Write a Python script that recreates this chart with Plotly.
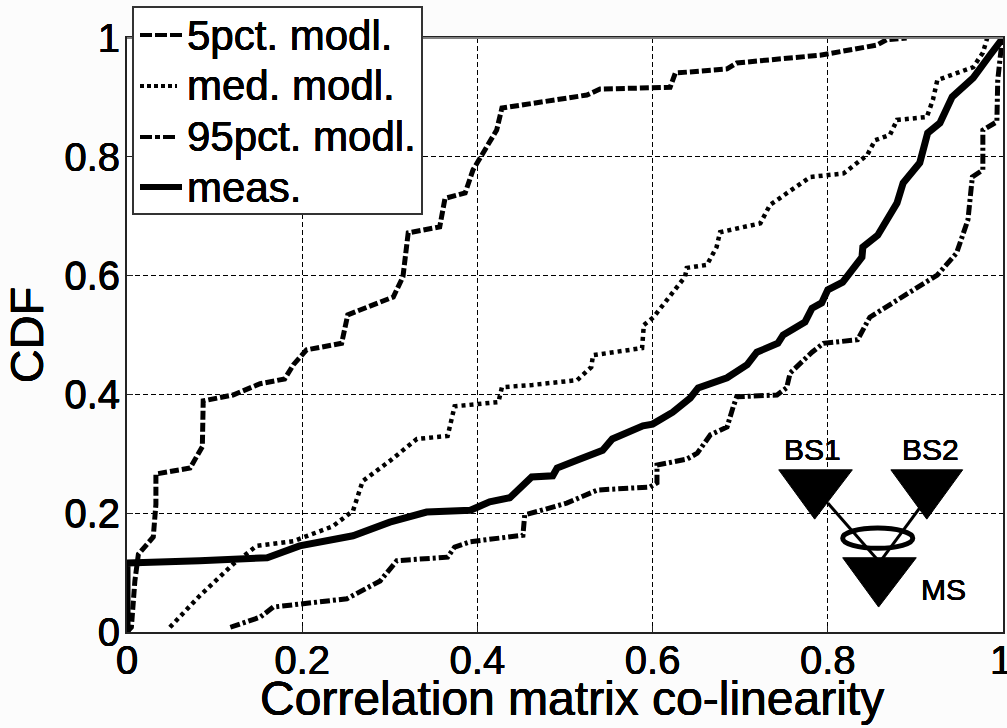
import plotly.graph_objects as go

p5_x = [0,.005,.009,.013,.03,.033,.033,.072,.086,.087,.121,.152,.18,.19,.205,.245,.252,.304,.315,.321,.357,.363,.386,.395,.422,.426,.428,.525,.54,.62,.626,.685,.696,.791,.856,.867,.89]
p5_y = [0,.008,.086,.131,.16,.215,.266,.276,.312,.389,.399,.418,.426,.45,.475,.486,.534,.564,.598,.672,.682,.73,.739,.778,.845,.865,.882,.904,.914,.917,.941,.948,.958,.971,.988,.997,1.0]

med_x = [.049,.083,.121,.148,.19,.235,.258,.269,.3,.331,.366,.374,.424,.428,.463,.514,.53,.532,.588,.59,.601,.637,.639,.662,.673,.677,.723,.734,.78,.818,.845,.854,.871,.879,.913,.92,.925,.966,.977,.982]
med_y = [.008,.061,.114,.145,.153,.178,.204,.254,.288,.325,.33,.38,.387,.412,.416,.424,.446,.466,.478,.517,.53,.598,.613,.618,.648,.673,.688,.719,.766,.772,.803,.828,.837,.862,.867,.896,.929,.951,.975,1.0]

p95_x = [.118,.152,.167,.251,.289,.308,.366,.374,.392,.452,.454,.502,.537,.597,.605,.605,.639,.651,.666,.685,.692,.696,.742,.753,.757,.782,.795,.834,.848,.882,.925,.947,.96,.965,.977,.977,.993,.994,.999]
p95_y = [.008,.025,.042,.056,.086,.12,.126,.143,.152,.163,.197,.217,.239,.244,.251,.281,.291,.301,.332,.345,.379,.396,.399,.411,.436,.471,.486,.492,.53,.562,.601,.638,.694,.766,.778,.845,.859,.929,.997]

meas_x = [0,0,.083,.16,.197,.258,.3,.342,.392,.414,.437,.451,.462,.486,.491,.515,.543,.554,.589,.6,.623,.643,.652,.685,.708,.719,.743,.749,.774,.782,.793,.8,.817,.839,.84,.857,.879,.886,.905,.914,.928,.942,.966,.985,1.0]
meas_y = [0,.116,.12,.125,.145,.162,.185,.202,.205,.219,.226,.247,.261,.263,.276,.29,.306,.325,.347,.35,.37,.394,.411,.428,.45,.471,.486,.5,.522,.545,.554,.576,.589,.631,.648,.668,.722,.756,.79,.84,.857,.901,.933,.971,1.0]

tick_vals = [0,.2,.4,.6,.8,1]
x_tick_text = ["0","0.2","0.4","0.6","0.8",""]
y_tick_text = ["0","0.2","0.4","0.6","0.8","1"]
series_names = ["5pct. modl.","med. modl.","95pct. modl.","meas."]

FONT = "Liberation Sans"
BOLD = "0.3px 0 0 black, -0.3px 0 0 black, 0 0.3px 0 black, 0 -0.3px 0 black"
def font(size):
    return dict(family=FONT, size=size, color="black", shadow=BOLD)
def xp(px): return (px-127)/876
def yp(py): return (632-py)/594

fig = go.Figure()
styles = [dict(width=5, dash="9px,3px"), dict(width=4.5, dash="4px,4px"),
          dict(width=5, dash="10px,3px,3px,3px"), dict(width=7, dash="solid")]
legend_styles = [dict(width=4, dash="12px,3px"), dict(width=4, dash="4px,3px"),
                 dict(width=4, dash="12px,3px,5px,3px"), dict(width=6, dash="solid")]
for name, xs, ys, st in zip(series_names, [p5_x, med_x, p95_x, meas_x], [p5_y, med_y, p95_y, meas_y], styles):
    fig.add_trace(go.Scatter(x=xs, y=ys, mode="lines", name=name, line=dict(color="black", **st)))

def tri(x0, x1, xa, y0, y1):
    return dict(type="path", xref="x", yref="y", path=f"M {x0} {y0} L {x1} {y0} L {xa} {y1} Z",
                fillcolor="black", line=dict(color="black", width=1))
shapes = [tri(.744,.828,.785,.273,.190), tri(.872,.954,.913,.273,.190), tri(.817,.901,.858,.125,.042),
          dict(type="line", xref="x", yref="y", x0=.800, y0=.217, x1=.856, y1=.123, line=dict(color="black", width=3)),
          dict(type="line", xref="x", yref="y", x0=.905, y0=.209, x1=.862, y1=.123, line=dict(color="black", width=3)),
          dict(type="circle", xref="x", yref="y", x0=.817, x1=.897, y0=.141, y1=.175, line=dict(color="black", width=5)),
          dict(type="line", xref="paper", yref="paper", x0=0, x1=1, y0=1, y1=1, line=dict(color="#808080", width=2)),
          dict(type="rect", xref="paper", yref="paper", x0=xp(133), x1=xp(422), y0=yp(214), y1=yp(7),
               fillcolor="white", line=dict(color="#333333", width=2))]
notes = [dict(x=.782, y=.308, text="BS1"), dict(x=.917, y=.308, text="BS2"), dict(x=.932, y=.072, text="MS")]
annotations = [dict(xref="x", yref="y", showarrow=False, font=font(30), **n) for n in notes]

legend_rows = [35, 86, 137, 187]
legend_ends = [182, 177, 177, 182]
for name, row, end, st in zip(series_names, legend_rows, legend_ends, legend_styles):
    shapes.append(dict(type="line", xref="paper", yref="paper", x0=xp(140), x1=xp(end), y0=yp(row), y1=yp(row),
                       line=dict(color="black", **st)))
    annotations.append(dict(xref="paper", yref="paper", x=xp(185), y=yp(row), xanchor="left", yanchor="middle",
                            text=name, showarrow=False, font=font(42)))
annotations.append(dict(xref="paper", yref="paper", x=xp(1001), y=yp(660), xanchor="center", yanchor="middle",
                        text="1", showarrow=False, font=font(40)))
annotations.append(dict(xref="paper", yref="paper", x=xp(572), y=yp(698), xanchor="center", yanchor="middle",
                        text="Correlation matrix co-linearity", showarrow=False, font=font(48)))

axis = dict(range=[0,1], tickmode="array", tickvals=tick_vals, showgrid=True,
            gridcolor="black", gridwidth=1, griddash="5px,3px", zeroline=False, showline=True,
            linecolor="#222222", linewidth=2, mirror=True, ticks="inside", ticklen=6, tickcolor="#222222",
            tickfont=font(40))
fig.update_layout(
    width=1007, height=728, margin=dict(l=127, r=4, t=38, b=96, autoexpand=False),
    paper_bgcolor="#fcfcfc", plot_bgcolor="white", showlegend=False,
    xaxis=dict(axis, ticktext=x_tick_text, ticklabelstandoff=-8),
    yaxis=dict(axis, ticktext=y_tick_text, ticklabelstandoff=-3,
               title=dict(text="CDF", font=font(47), standoff=8)),
    shapes=shapes, annotations=annotations)
fig.write_html("out.html", config=dict(displayModeBar=False), post_script="document.body.style.margin='0';")
